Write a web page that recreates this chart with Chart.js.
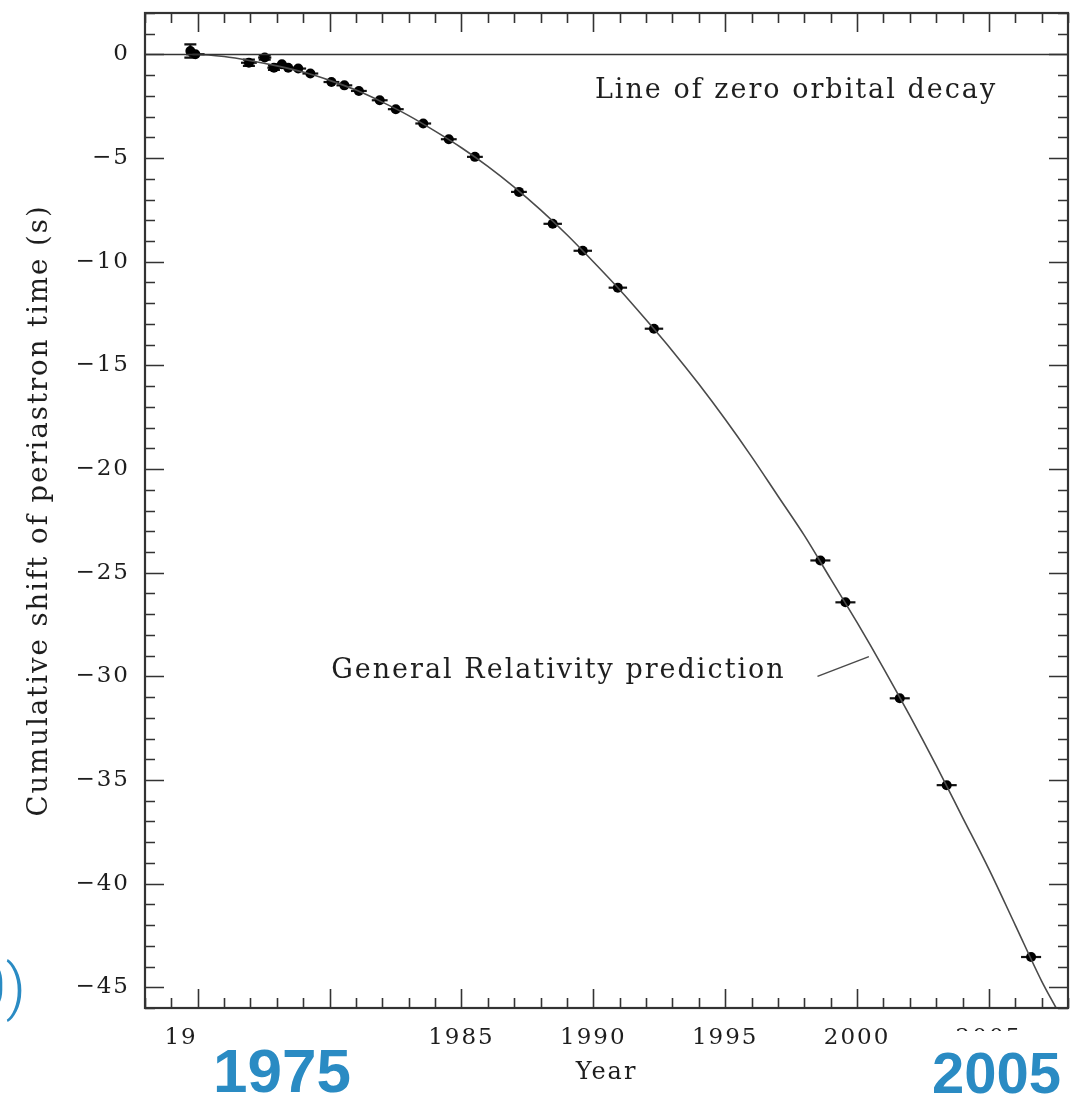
<!DOCTYPE html>
<html>
<head>
<meta charset="utf-8">
<script src="https://cdn.jsdelivr.net/npm/chart.js@4.4.1/dist/chart.umd.min.js"></script>
<style>
  html, body { margin: 0; padding: 0; background: #fff; }
  #wrap { width: 1079px; height: 1097px; position: relative; }
</style>
</head>
<body>
<div id="wrap"><canvas id="c" width="1079" height="1097"></canvas></div>
<script>
// ---- Data ----
const obsYear  = [1974.72, 1974.91, 1976.94, 1977.54, 1977.89, 1978.19, 1978.43, 1978.81, 1979.27, 1980.07, 1980.56, 1981.11, 1981.90, 1982.51, 1983.55, 1984.52, 1985.51, 1987.18, 1988.46, 1989.60, 1990.93, 1992.30, 1998.61, 1999.56, 2001.62, 2003.40, 2006.60];
const obsShift = [0.17, 0.01, -0.40, -0.15, -0.64, -0.47, -0.64, -0.68, -0.92, -1.33, -1.49, -1.76, -2.21, -2.64, -3.33, -4.09, -4.94, -6.63, -8.17, -9.47, -11.25, -13.23, -24.41, -26.43, -31.06, -35.25, -43.54];
const obsYearErr  = [0.10, 0.35, 0.30, 0.25, 0.25, 0.25, 0.25, 0.30, 0.30, 0.30, 0.30, 0.30, 0.30, 0.30, 0.30, 0.30, 0.30, 0.30, 0.35, 0.35, 0.35, 0.35, 0.38, 0.38, 0.38, 0.38, 0.38];
const obsShiftErr = [0.32, 0.00, 0.15, 0.10, 0.10, 0.00, 0.00, 0.00, 0.00, 0.00, 0.00, 0.00, 0.00, 0.00, 0.00, 0.00, 0.00, 0.00, 0.00, 0.00, 0.00, 0.00, 0.00, 0.00, 0.00, 0.00, 0.00];

const grYear  = [1974.8, 1975, 1976, 1977, 1978, 1979, 1980, 1981, 1982, 1983, 1984, 1985, 1986, 1987, 1988, 1989, 1990, 1991, 1992, 1993, 1994, 1995, 1996, 1997, 1998, 1999, 2000, 2001, 2002, 2003, 2004, 2005, 2006, 2007, 2007.55];
const grShift = [0.0, 0.0, -0.1, -0.3, -0.55, -0.85, -1.25, -1.72, -2.3, -2.95, -3.7, -4.5, -5.4, -6.4, -7.5, -8.7, -10.0, -11.35, -12.8, -14.3, -15.9, -17.6, -19.4, -21.3, -23.2, -25.3, -27.4, -29.6, -31.9, -34.3, -36.8, -39.3, -42.0, -44.7, -46.0];

const zeroYear  = [1973, 2008];
const zeroShift = [0, 0];

const leaderYear  = [1998.5, 2000.45];
const leaderShift = [-30.0, -29.05];

const xTickValues = [1975, 1980, 1985, 1990, 1995, 2000, 2005];
const xTickLabels = ['1975', '1980', '1985', '1990', '1995', '2000', '2005'];
const yTickValues = [0, -5, -10, -15, -20, -25, -30, -35, -40, -45];
const yTickLabels = ['0', '\u22125', '\u221210', '\u221215', '\u221220', '\u221225', '\u221230', '\u221235', '\u221240', '\u221245'];

const X_MIN = 1973, X_MAX = 2008, Y_MIN = -46, Y_MAX = 2;

const notes = [
  { text: 'Line of zero orbital decay', x: 1990.06, y: -2.08 },
  { text: 'General Relativity prediction', x: 1980.06, y: -30.06 }
];

const INK = '#1e1e1e';
const SERIF = '"DejaVu Serif", serif';

const zip = (xs, ys) => xs.map((x, i) => ({ x: x, y: ys[i] }));

const styleInit = {
  id: 'styleInit',
  beforeDraw(chart) { chart.ctx.letterSpacing = '2px'; }
};

const errorBars = {
  id: 'errorBars',
  beforeDatasetsDraw(chart) {
    const { ctx, scales: { x, y } } = chart;
    ctx.save();
    ctx.strokeStyle = '#111';
    ctx.lineWidth = 2.2;
    obsYear.forEach((yr, i) => {
      const px = x.getPixelForValue(yr), py = y.getPixelForValue(obsShift[i]);
      const ex = obsYearErr[i], ey = obsShiftErr[i];
      if (ex > 0) {
        ctx.beginPath();
        ctx.moveTo(x.getPixelForValue(yr - ex), py);
        ctx.lineTo(x.getPixelForValue(yr + ex), py);
        ctx.stroke();
      }
      if (ey > 0) {
        const t = y.getPixelForValue(obsShift[i] + ey), b = y.getPixelForValue(obsShift[i] - ey);
        ctx.beginPath();
        ctx.moveTo(px, t); ctx.lineTo(px, b);
        ctx.moveTo(px - 6, t); ctx.lineTo(px + 6, t);
        ctx.moveTo(px - 6, b); ctx.lineTo(px + 6, b);
        ctx.stroke();
      }
    });
    ctx.restore();
  }
};

const frame = {
  id: 'frame',
  afterDraw(chart) {
    const { ctx, chartArea: a, scales: { x, y } } = chart;
    ctx.save();
    ctx.letterSpacing = '0px';
    ctx.strokeStyle = '#333';
    ctx.lineWidth = 1.6;
    for (let v = Math.ceil(X_MIN); v <= X_MAX; v++) {
      const px = Math.round(x.getPixelForValue(v)) + 0.5;
      const L = (v % 5 === 0) ? 19 : 10;
      ctx.beginPath();
      ctx.moveTo(px, a.bottom); ctx.lineTo(px, a.bottom - L);
      ctx.moveTo(px, a.top); ctx.lineTo(px, a.top + L);
      ctx.stroke();
    }
    for (let v = Math.ceil(Y_MIN); v <= Y_MAX; v++) {
      const py = Math.round(y.getPixelForValue(v)) + 0.5;
      const L = (v % 5 === 0) ? 19 : 10;
      ctx.beginPath();
      ctx.moveTo(a.left, py); ctx.lineTo(a.left + L, py);
      ctx.moveTo(a.right, py); ctx.lineTo(a.right - L, py);
      ctx.stroke();
    }
    ctx.lineWidth = 2.2;
    ctx.strokeRect(a.left, a.top, a.right - a.left, a.bottom - a.top);

    ctx.letterSpacing = '2px';
    ctx.fillStyle = INK;
    ctx.font = '27px ' + SERIF;
    ctx.textBaseline = 'alphabetic';
    ctx.textAlign = 'left';
    notes.forEach(n => ctx.fillText(n.text, x.getPixelForValue(n.x), y.getPixelForValue(n.y)));

    // slide overlays
    ctx.letterSpacing = '0px';
    ctx.fillStyle = '#fff';
    ctx.fillRect(196, 1013, 171, 84);
    ctx.fillRect(925, 1031, 154, 66);
    ctx.fillStyle = '#2a8bc3';
    ctx.font = 'bold 62px "Liberation Sans", Arial, sans-serif';
    ctx.fillText('1975', 213, 1092);
    ctx.font = 'bold 58px "Liberation Sans", Arial, sans-serif';
    ctx.fillText('2005', 932, 1093);
    ctx.font = '300 62px Roboto, "Liberation Sans", sans-serif';
    ctx.textAlign = 'right';
    ctx.fillText('0)', 26, 1008);
    ctx.restore();
  }
};

function zeroPad(axis) {
  axis.paddingTop = 0; axis.paddingBottom = 0; axis.paddingLeft = 0; axis.paddingRight = 0;
}

new Chart(document.getElementById('c'), {
  type: 'scatter',
  data: {
    datasets: [
      { data: zip(zeroYear, zeroShift), showLine: true, borderColor: '#333', borderWidth: 1.6, pointRadius: 0 },
      { data: zip(grYear, grShift), showLine: true, borderColor: '#4a4a4a', borderWidth: 1.6, pointRadius: 0, cubicInterpolationMode: 'monotone' },
      { data: zip(leaderYear, leaderShift), showLine: true, borderColor: '#4a4a4a', borderWidth: 1.5, pointRadius: 0 },
      { data: zip(obsYear, obsShift), showLine: false, pointRadius: 5, pointBackgroundColor: '#000', pointBorderColor: '#000', pointBorderWidth: 0 }
    ]
  },
  options: {
    responsive: false,
    animation: false,
    events: [],
    layout: { padding: { top: 13, right: 11, left: 0, bottom: 0 }, autoPadding: false },
    plugins: { legend: { display: false }, tooltip: { enabled: false } },
    scales: {
      x: {
        type: 'linear', min: X_MIN, max: X_MAX,
        grid: { display: false, drawTicks: false },
        border: { display: false },
        afterBuildTicks: axis => { axis.ticks = xTickValues.map(v => ({ value: v })); },
        afterFit: axis => { axis.height = 89; zeroPad(axis); },
        ticks: {
          autoSkip: false, maxRotation: 0, padding: 16, color: INK,
          font: { family: SERIF, size: 23 },
          callback: (v, i) => xTickLabels[i]
        },
        title: { display: true, text: 'Year', color: INK, font: { family: SERIF, size: 24 }, padding: { top: 0, bottom: 10 } }
      },
      y: {
        type: 'linear', min: Y_MIN, max: Y_MAX,
        grid: { display: false, drawTicks: false },
        border: { display: false },
        afterBuildTicks: axis => { axis.ticks = yTickValues.map(v => ({ value: v })); },
        afterFit: axis => { axis.width = 145; zeroPad(axis); },
        ticks: {
          autoSkip: false, padding: 15, color: INK,
          font: { family: SERIF, size: 23 },
          callback: (v, i) => yTickLabels[i]
        },
        title: { display: true, text: 'Cumulative shift of periastron time (s)', color: INK, font: { family: SERIF, size: 27.5 }, padding: { top: 23, bottom: 0 } }
      }
    }
  },
  plugins: [styleInit, errorBars, frame]
});
</script>
</body>
</html>
